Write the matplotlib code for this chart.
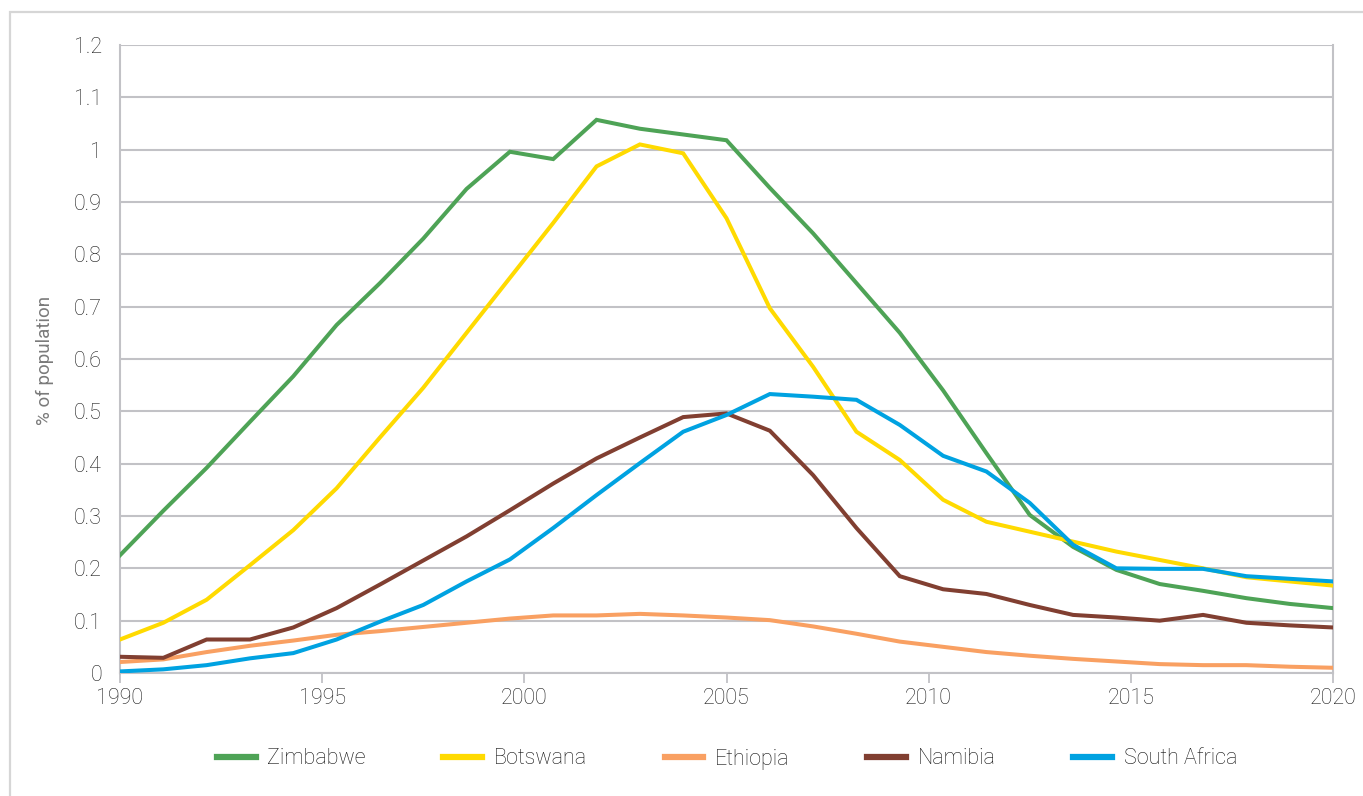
import numpy as np
import matplotlib
matplotlib.use("Agg")
import matplotlib.pyplot as plt
from matplotlib.patches import Rectangle

# ---- data ----
years = np.linspace(1990, 2020, 29)

zimbabwe = [0.225, 0.310, 0.392, 0.480, 0.567, 0.665, 0.745, 0.830, 0.925, 0.996,
            0.982, 1.057, 1.040, 1.029, 1.018, 0.927, 0.840, 0.745, 0.650, 0.540,
            0.420, 0.302, 0.241, 0.197, 0.170, 0.157, 0.143, 0.132, 0.124]
botswana = [0.064, 0.096, 0.140, 0.206, 0.273, 0.353, 0.450, 0.545, 0.650, 0.755,
            0.860, 0.968, 1.010, 0.993, 0.869, 0.697, 0.585, 0.461, 0.407, 0.331,
            0.289, 0.270, 0.251, 0.232, 0.216, 0.200, 0.183, 0.175, 0.167]
ethiopia = [0.021, 0.026, 0.040, 0.052, 0.062, 0.073, 0.080, 0.088, 0.096, 0.104,
            0.110, 0.110, 0.113, 0.110, 0.106, 0.101, 0.089, 0.075, 0.060, 0.050,
            0.040, 0.033, 0.027, 0.022, 0.017, 0.015, 0.015, 0.012, 0.010]
namibia = [0.031, 0.029, 0.064, 0.064, 0.087, 0.124, 0.169, 0.215, 0.261, 0.311,
           0.362, 0.410, 0.450, 0.489, 0.496, 0.463, 0.378, 0.277, 0.185, 0.160,
           0.151, 0.130, 0.111, 0.106, 0.100, 0.111, 0.096, 0.091, 0.087]
south_africa = [0.003, 0.007, 0.015, 0.028, 0.038, 0.064, 0.098, 0.130, 0.175, 0.217,
                0.277, 0.340, 0.401, 0.461, 0.493, 0.533, 0.528, 0.522, 0.474, 0.415,
                0.385, 0.325, 0.245, 0.200, 0.199, 0.199, 0.185, 0.180, 0.175]

series_names = ["Zimbabwe", "Botswana", "Ethiopia", "Namibia", "South Africa"]
series_values = [zimbabwe, botswana, ethiopia, namibia, south_africa]
series_colors = ["#4ea356", "#ffda00", "#f9a062", "#813f31", "#00a2e1"]

x_ticks = [1990, 1995, 2000, 2005, 2010, 2015, 2020]
y_ticks = [0, 0.1, 0.2, 0.3, 0.4, 0.5, 0.6, 0.7, 0.8, 0.9, 1.0, 1.1, 1.2]
y_ticklabels = ["0", "0.1", "0.2", "0.3", "0.4", "0.5", "0.6", "0.7", "0.8", "0.9", "1", "1.1", "1.2"]

plt.rcParams['font.family'] = ['Roboto', 'DejaVu Sans']

W, H = 1363, 796
fig = plt.figure(figsize=(W / 100, H / 100), dpi=100)

# outer light frame (extends past right and bottom edges)
fig.patches.append(Rectangle((10 / W, -0.1), 1.2, 1 - 12 / H + 0.1, transform=fig.transFigure,
                             fill=False, edgecolor="#d6d6d6", linewidth=1.6, zorder=0))

ax = fig.add_axes([120 / W, 1 - 673 / H, (1333 - 120) / W, (673 - 45) / H])

for name, vals, col in zip(series_names, series_values, series_colors):
    ax.plot(years, vals, color=col, linewidth=2.9, label=name, solid_joinstyle="miter", zorder=3)

ax.set_xlim(1990, 2020)
ax.set_ylim(0, 1.2)
ax.set_yticks(y_ticks)
ax.set_yticklabels(y_ticklabels)
ax.set_xticks(x_ticks)

grid_col = "#c2c2c6"
ax.yaxis.grid(True, color=grid_col, linewidth=1.5, zorder=1)
ax.xaxis.grid(False)
for side in ["left", "right"]:
    ax.spines[side].set_color(grid_col)
    ax.spines[side].set_linewidth(1.5)
ax.spines["top"].set_visible(False)
ax.spines["bottom"].set_color(grid_col)
ax.spines["bottom"].set_linewidth(1.5)

ax.tick_params(axis="y", length=0, pad=13, labelsize=15.5, labelcolor="#1e1e1e")
ax.tick_params(axis="x", length=7, width=1.3, color=grid_col, pad=4, labelsize=15.5, labelcolor="#1e1e1e")
for lab in ax.get_xticklabels() + ax.get_yticklabels():
    lab.set_fontweight("light")

fig.text(45 / W, 1 - 360 / H, "% of population", rotation=90, ha="center", va="center",
         fontsize=13.5, color="#7a7a7a", fontweight="normal")

leg = fig.legend(loc="center", bbox_to_anchor=(727 / W, 1 - 759 / H), ncol=5, frameon=False,
                 fontsize=15.5, handlelength=1.8, handletextpad=0.55, columnspacing=3.6,
                 borderaxespad=0)
for t in leg.get_texts():
    t.set_fontweight("light")
    t.set_color("#111111")
for lh in leg.get_lines():
    lh.set_linewidth(4.5)

fig.savefig("out.png", dpi=100)
